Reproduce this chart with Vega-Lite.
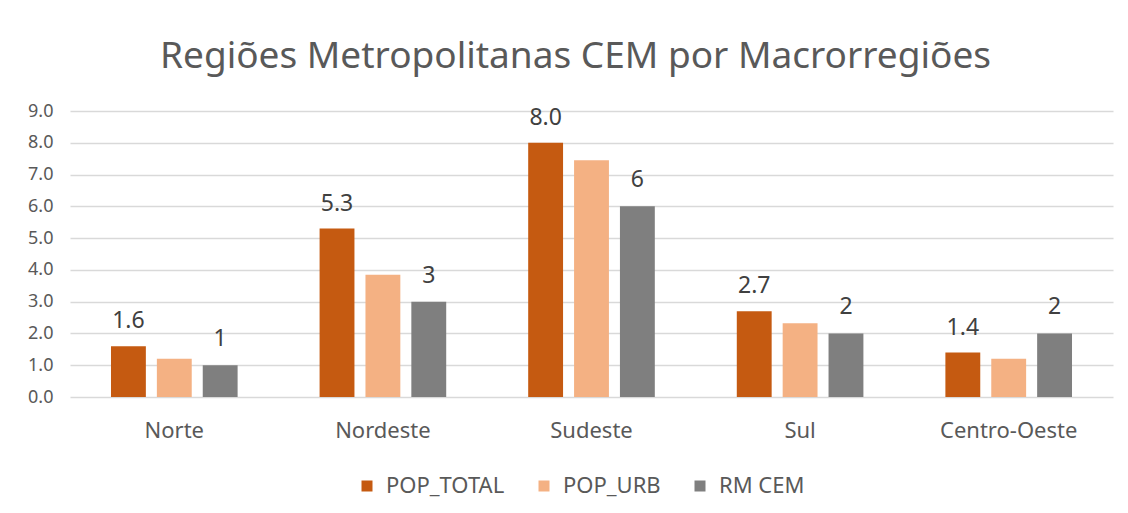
{
  "$schema": "https://vega.github.io/schema/vega-lite/v6.json",
  "width": 1043,
  "height": 286,
  "autosize": {"type": "none"},
  "padding": {"left": 70, "top": 111, "right": 15, "bottom": 116},
  "background": "white",
  "config": {"font": "Noto Sans", "view": {"stroke": null}},
  "title": {
    "text": "Regiões Metropolitanas CEM por Macrorregiões",
    "fontSize": 37,
    "fontWeight": "normal",
    "color": "#595959",
    "font": "Noto Sans",
    "anchor": "middle",
    "frame": "group",
    "baseline": "alphabetic",
    "offset": -3,
    "dx": -16
  },
  "data": {
    "values": [
      {"regiao": "Norte", "serie": "POP_TOTAL", "valor": 1.6},
      {"regiao": "Norte", "serie": "POP_URB", "valor": 1.2},
      {"regiao": "Norte", "serie": "RM CEM", "valor": 1},
      {"regiao": "Nordeste", "serie": "POP_TOTAL", "valor": 5.3},
      {"regiao": "Nordeste", "serie": "POP_URB", "valor": 3.85},
      {"regiao": "Nordeste", "serie": "RM CEM", "valor": 3},
      {"regiao": "Sudeste", "serie": "POP_TOTAL", "valor": 8.0},
      {"regiao": "Sudeste", "serie": "POP_URB", "valor": 7.45},
      {"regiao": "Sudeste", "serie": "RM CEM", "valor": 6},
      {"regiao": "Sul", "serie": "POP_TOTAL", "valor": 2.7},
      {"regiao": "Sul", "serie": "POP_URB", "valor": 2.32},
      {"regiao": "Sul", "serie": "RM CEM", "valor": 2},
      {"regiao": "Centro-Oeste", "serie": "POP_TOTAL", "valor": 1.4},
      {"regiao": "Centro-Oeste", "serie": "POP_URB", "valor": 1.2},
      {"regiao": "Centro-Oeste", "serie": "RM CEM", "valor": 2}
    ]
  },
  "encoding": {
    "x": {
      "field": "regiao",
      "type": "nominal",
      "sort": null,
      "scale": {"paddingInner": 0.393, "paddingOuter": 0.1965},
      "axis": {
        "title": null,
        "labelAngle": 0,
        "labelFontSize": 22,
        "labelColor": "#595959",
        "labelPadding": 23,
        "ticks": false,
        "tickSize": 0,
        "domain": false,
        "grid": false
      }
    },
    "xOffset": {
      "field": "serie",
      "type": "nominal",
      "sort": ["POP_TOTAL", "POP_URB", "RM CEM"],
      "scale": {"paddingInner": 0.24, "paddingOuter": 0}
    },
    "y": {
      "field": "valor",
      "type": "quantitative",
      "scale": {"domain": [0, 9], "nice": false},
      "axis": {
        "title": null,
        "values": [0, 1, 2, 3, 4, 5, 6, 7, 8, 9],
        "format": ".1f",
        "labelFontSize": 18,
        "labelColor": "#595959",
        "labelPadding": 17,
        "ticks": false,
        "tickSize": 0,
        "domain": false,
        "grid": true,
        "gridColor": "#d9d9d9",
        "gridWidth": 1.3
      }
    }
  },
  "layer": [
    {
      "mark": {"type": "bar"},
      "encoding": {
        "color": {
          "field": "serie",
          "type": "nominal",
          "sort": ["POP_TOTAL", "POP_URB", "RM CEM"],
          "scale": {
            "domain": ["POP_TOTAL", "POP_URB", "RM CEM"],
            "range": ["#C55A11", "#F4B183", "#7F7F7F"]
          },
          "legend": {
            "orient": "none",
            "legendX": 286,
            "legendY": 364,
            "direction": "horizontal",
            "columns": 3,
            "title": null,
            "symbolType": "square",
            "symbolSize": 121,
            "symbolStrokeWidth": 0,
            "labelFontSize": 22,
            "labelColor": "#595959",
            "labelOffset": 8,
            "columnPadding": 28,
            "padding": 0
          }
        }
      }
    },
    {
      "transform": [{"filter": "datum.serie === 'POP_TOTAL'"}],
      "mark": {"type": "text", "baseline": "alphabetic", "dy": -18, "fontSize": 23, "color": "#404040"},
      "encoding": {"text": {"field": "valor", "type": "quantitative", "format": ".1f"}}
    },
    {
      "transform": [{"filter": "datum.serie === 'RM CEM'"}],
      "mark": {"type": "text", "baseline": "alphabetic", "dy": -19, "fontSize": 23, "color": "#404040"},
      "encoding": {"text": {"field": "valor", "type": "quantitative", "format": "d"}}
    }
  ]
}
